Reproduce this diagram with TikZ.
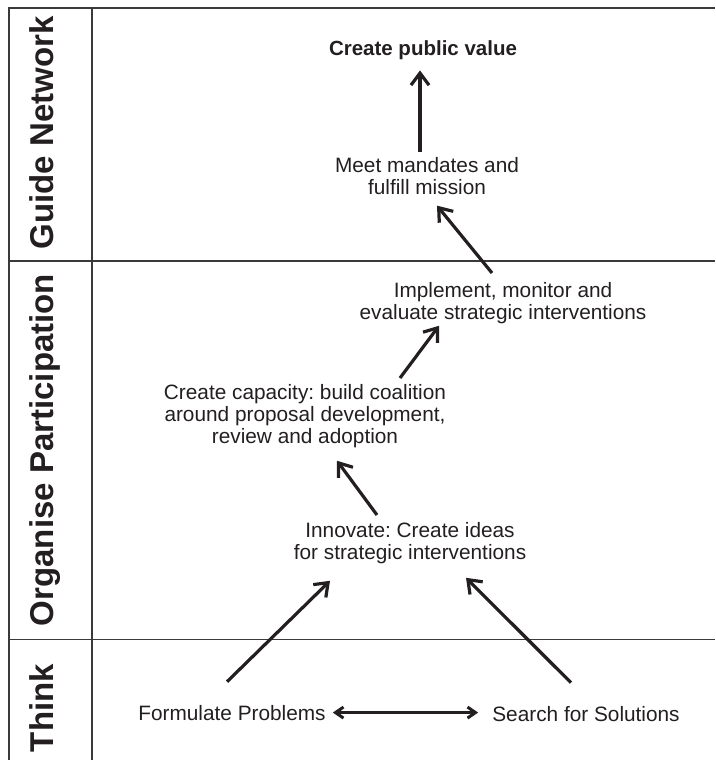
\documentclass[tikz,border=0pt]{standalone}
\usepackage{fontspec}
\setmainfont{Liberation Sans}
\usetikzlibrary{arrows.meta}
\definecolor{ink}{HTML}{231F20}
\definecolor{rulec}{HTML}{3A3A3A}
\frenchspacing
\begin{document}
\frenchspacing
\begin{tikzpicture}[x=1pt,y=-1pt,
  txt/.style={inner sep=0pt, font=\fontsize{20.8}{22}\selectfont\frenchspacing, text=ink, align=center},
  ttl/.style={inner sep=0pt, font=\fontsize{20.5}{22}\selectfont\bfseries, text=ink},
  side/.style={inner sep=0pt, font=\fontsize{33}{40}\selectfont\bfseries, text=ink, rotate=90, anchor=base},
  frame/.style={draw=rulec, line width=1.2pt},
  arr/.style={draw=ink, line width=3.2pt, -{Straight Barb[length=12pt,width=18pt]}},
  darr/.style={draw=ink, line width=3pt, {Straight Barb[length=8pt,width=11pt]}-{Straight Barb[length=8pt,width=11pt]}}]

\useasboundingbox (0,0) rectangle (715,760);

% frame
\draw[frame] (9,760) -- (9,8) -- (715,8);
\draw[frame] (92,8) -- (92,760);
\draw[frame] (9,261) -- (715,261);
\draw[frame] (9,639.5) -- (715,639.5);

% side labels
\node[side] (gn) at (53,133) {Guide Network};
\node[side] (op) at (53,450) {Organise Participation};
\node[side] (th) at (53,708) {Think};

% content nodes
\node[ttl, anchor=base] (title) at (423,56) {Create public value};
\node[txt, anchor=north] (meet) at (427,157) {Meet mandates and\\fulfill mission};
\node[txt, anchor=north] (impl) at (503,282) {Implement, monitor and\\evaluate strategic interventions};
\node[txt, anchor=north] (cap) at (305,384) {Create capacity: build coalition\\around proposal development,\\review and adoption};
\node[txt, anchor=north] (inn) at (410,522) {Innovate: Create ideas\\for strategic interventions};
\node[txt, anchor=base] (form) at (232,720) {Formulate Problems};
\node[txt, anchor=base] (search) at (586,721) {Search for Solutions};

% connectors
\draw[arr] ([xshift=-7pt,yshift=5pt]meet.north) -- ([xshift=-3pt,yshift=-10pt]title.south);
\draw[arr] ([xshift=-11pt,yshift=9pt]impl.north) -- ([xshift=10pt,yshift=-11pt]meet.south);
\draw[arr] ([xshift=95pt,yshift=6pt]cap.north) -- ([xshift=-64pt,yshift=-2pt]impl.south);
\draw[arr] ([xshift=-33pt,yshift=7pt]inn.north) -- ([xshift=32pt,yshift=-13pt]cap.south);
\draw[arr] ([xshift=-5pt,yshift=23pt]form.north) -- ([xshift=-80pt,yshift=-17pt]inn.south);
\draw[arr] ([xshift=-15pt,yshift=23pt]search.north) -- ([xshift=56pt,yshift=-14pt]inn.south);
\draw[darr, shorten <=7pt, shorten >=14pt] (form.east) -- (form.east -| search.west);
\end{tikzpicture}
\end{document}
